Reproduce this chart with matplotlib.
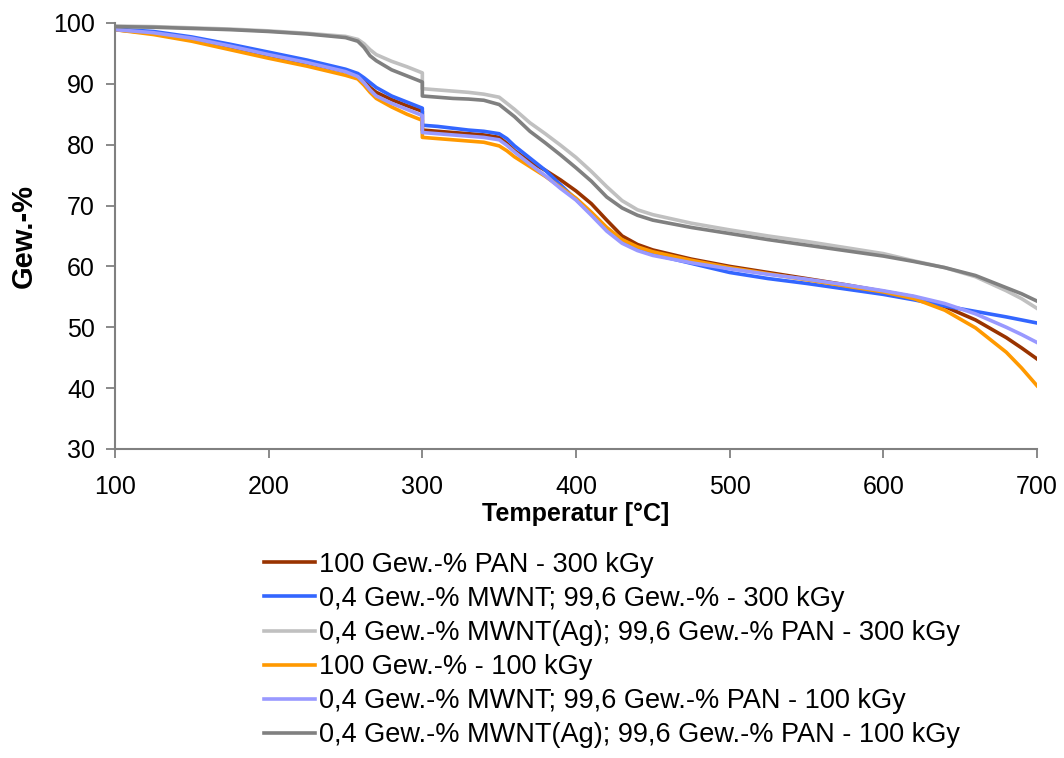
import matplotlib
matplotlib.use("Agg")
import matplotlib.pyplot as plt

plt.rcParams['font.family'] = ['Liberation Sans', 'DejaVu Sans']

# Temperature grid [°C]; 300 appears twice for the mass step at that temperature
temperature = [100, 125, 150, 175, 200, 225, 250, 258, 262, 266, 270, 280, 290, 300, 300,
               310, 320, 330, 340, 350, 355, 360, 370, 380, 390, 400, 410, 420, 430, 440,
               450, 475, 500, 525, 550, 575, 600, 620, 640, 660, 680, 690, 700]

pan_300 = [98.9, 98.3, 97.3, 95.9, 94.6, 93.4, 92.0, 91.3, 90.5, 89.4, 88.6, 87.4, 86.4, 85.5, 82.4,
           82.2, 82.0, 81.8, 81.6, 81.2, 80.2, 79.0, 77.2, 75.8, 74.2, 72.4, 70.3, 67.6, 65.0, 63.6,
           62.7, 61.2, 60.0, 59.0, 58.0, 57.0, 55.9, 55.0, 53.4, 51.2, 48.3, 46.6, 44.8]

mwnt_300 = [99.0, 98.6, 97.7, 96.5, 95.2, 93.9, 92.4, 91.7, 91.0, 90.2, 89.4, 88.0, 87.0, 86.0, 83.2,
            83.0, 82.7, 82.4, 82.2, 81.8, 81.0, 79.8, 77.8, 75.8, 73.4, 71.0, 68.6, 66.0, 64.2, 62.9,
            62.0, 60.5, 59.0, 58.0, 57.2, 56.3, 55.4, 54.5, 53.5, 52.6, 51.7, 51.2, 50.7]

mwnt_ag_300 = [99.5, 99.4, 99.2, 99.0, 98.7, 98.3, 97.8, 97.3, 96.6, 95.6, 94.8, 93.7, 92.8, 91.8, 89.2,
               89.0, 88.8, 88.6, 88.3, 87.8, 86.8, 85.8, 83.6, 81.8, 79.9, 77.9, 75.6, 73.1, 70.8, 69.3,
               68.5, 67.1, 66.0, 65.0, 64.1, 63.1, 62.1, 60.9, 59.8, 58.3, 56.0, 54.7, 53.1]

pan_100 = [98.9, 98.1, 97.0, 95.6, 94.2, 92.9, 91.4, 90.8, 89.8, 88.6, 87.6, 86.2, 85.0, 84.0, 81.2,
           81.0, 80.8, 80.6, 80.4, 79.8, 79.0, 78.0, 76.4, 74.8, 73.0, 71.2, 68.9, 66.4, 64.4, 63.2,
           62.4, 61.0, 59.8, 58.8, 57.8, 56.8, 55.8, 54.7, 52.8, 49.9, 45.9, 43.3, 40.4]

mwnt_100 = [98.9, 98.4, 97.5, 96.2, 94.8, 93.5, 92.0, 91.2, 90.2, 89.0, 88.0, 86.8, 85.8, 84.8, 82.0,
            81.8, 81.6, 81.4, 81.2, 80.8, 79.9, 78.8, 76.8, 74.9, 72.8, 70.9, 68.4, 65.8, 63.8, 62.6,
            61.8, 60.6, 59.6, 58.7, 57.9, 57.0, 56.0, 55.1, 53.9, 52.2, 50.0, 48.8, 47.5]

mwnt_ag_100 = [99.4, 99.3, 99.1, 98.9, 98.6, 98.2, 97.6, 97.0, 96.0, 94.6, 93.8, 92.3, 91.3, 90.3, 88.0,
               87.8, 87.6, 87.5, 87.3, 86.6, 85.6, 84.6, 82.2, 80.3, 78.3, 76.2, 74.0, 71.4, 69.6, 68.4,
               67.6, 66.4, 65.4, 64.4, 63.5, 62.6, 61.7, 60.8, 59.8, 58.5, 56.5, 55.5, 54.3]

series = [
    ("100 Gew.-% PAN - 300 kGy", pan_300, "#993300"),
    ("0,4 Gew.-% MWNT; 99,6 Gew.-% - 300 kGy", mwnt_300, "#3366FF"),
    ("0,4 Gew.-% MWNT(Ag); 99,6 Gew.-% PAN - 300 kGy", mwnt_ag_300, "#C0C0C0"),
    ("100 Gew.-% - 100 kGy", pan_100, "#FF9900"),
    ("0,4 Gew.-% MWNT; 99,6 Gew.-% PAN - 100 kGy", mwnt_100, "#9999FF"),
    ("0,4 Gew.-% MWNT(Ag); 99,6 Gew.-% PAN - 100 kGy", mwnt_ag_100, "#808080"),
]

x_ticks = [100, 200, 300, 400, 500, 600, 700]
y_ticks = [30, 40, 50, 60, 70, 80, 90, 100]

fig = plt.figure(figsize=(10.64, 7.58), dpi=100)
ax = fig.add_axes([0.1081, 0.4077, 0.8665, 0.5620])

for label, values, color in series:
    ax.plot(temperature, values, color=color, lw=2.6, label=label, solid_joinstyle='round')

ax.set_xlim(100, 700)
ax.set_ylim(30, 100)
ax.set_xticks(x_ticks)
ax.set_yticks(y_ticks)
ax.tick_params(axis='both', direction='out', length=6.5, width=1.3, color='#808080',
               labelsize=18)
ax.tick_params(axis='x', pad=12)
ax.tick_params(axis='y', pad=8)
for side in ('top', 'right'):
    ax.spines[side].set_visible(False)
for side in ('left', 'bottom'):
    ax.spines[side].set_color('#808080')
    ax.spines[side].set_linewidth(1.5)

ax.set_xlabel("Temperatur [°C]", fontsize=18, fontweight='bold', va='center')
ax.xaxis.set_label_coords(0.5, -0.152)
ax.set_ylabel("Gew.-%", fontsize=21, fontweight='bold', va='center')
ax.yaxis.set_label_coords(-0.099, 0.5)

fig.legend(loc='upper left', bbox_to_anchor=(0.248, 0.272), frameon=False, fontsize=19.5,
           handlelength=1.9, handletextpad=0.15, labelspacing=0.3, borderpad=0, borderaxespad=0)

fig.savefig("out.png", dpi=100, facecolor='white')
